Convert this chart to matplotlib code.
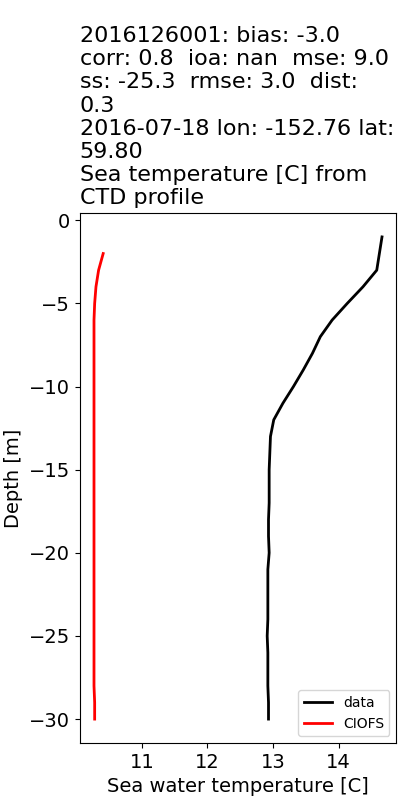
import numpy as np
import matplotlib
matplotlib.use('Agg')
import matplotlib.pyplot as plt

# CTD profile vs model
depth = [-1, -2, -3, -4, -5, -6, -7, -8, -9, -10, -11, -12, -13, -14, -15,
         -16, -17, -18, -19, -20, -21, -22, -23, -24, -25, -26, -27, -28, -29, -30]
temp_data = [14.66, 14.62, 14.58, 14.37, 14.13, 13.90, 13.72, 13.60, 13.46, 13.31,
             13.15, 13.01, 12.96, 12.95, 12.94, 12.94, 12.94, 12.93, 12.93, 12.94,
             12.92, 12.92, 12.92, 12.92, 12.91, 12.92, 12.92, 12.92, 12.93, 12.93]

depth_model = depth[1:]
temp_model = [10.41, 10.34, 10.30, 10.28, 10.27, 10.27, 10.27, 10.27, 10.27, 10.27,
              10.27, 10.27, 10.27, 10.27, 10.27, 10.27, 10.27, 10.27, 10.27, 10.27,
              10.27, 10.27, 10.27, 10.27, 10.27, 10.27, 10.27, 10.28, 10.28]

title = ('2016126001: bias: -3.0\n'
         'corr: 0.8  ioa: nan  mse: 9.0\n'
         'ss: -25.3  rmse: 3.0  dist:\n'
         '0.3\n'
         '2016-07-18 lon: -152.76 lat:\n'
         '59.80\n'
         'Sea temperature [C] from\n'
         'CTD profile')

fig, ax = plt.subplots(figsize=(4, 8), dpi=100)
ax.plot(temp_data, depth, 'k-', lw=2, label='data')
ax.plot(temp_model, depth_model, 'r-', lw=2, label='CIOFS')
ax.set_xlabel('Sea water temperature [C]', fontsize=14)
ax.set_ylabel('Depth [m]', fontsize=14)
ax.tick_params(labelsize=14)
ax.set_title(title, loc='left', fontsize=16)
ax.legend(loc='lower right', fontsize=10)
fig.subplots_adjust(left=0.199, right=0.991, top=0.734, bottom=0.071)
plt.savefig('out.png')
